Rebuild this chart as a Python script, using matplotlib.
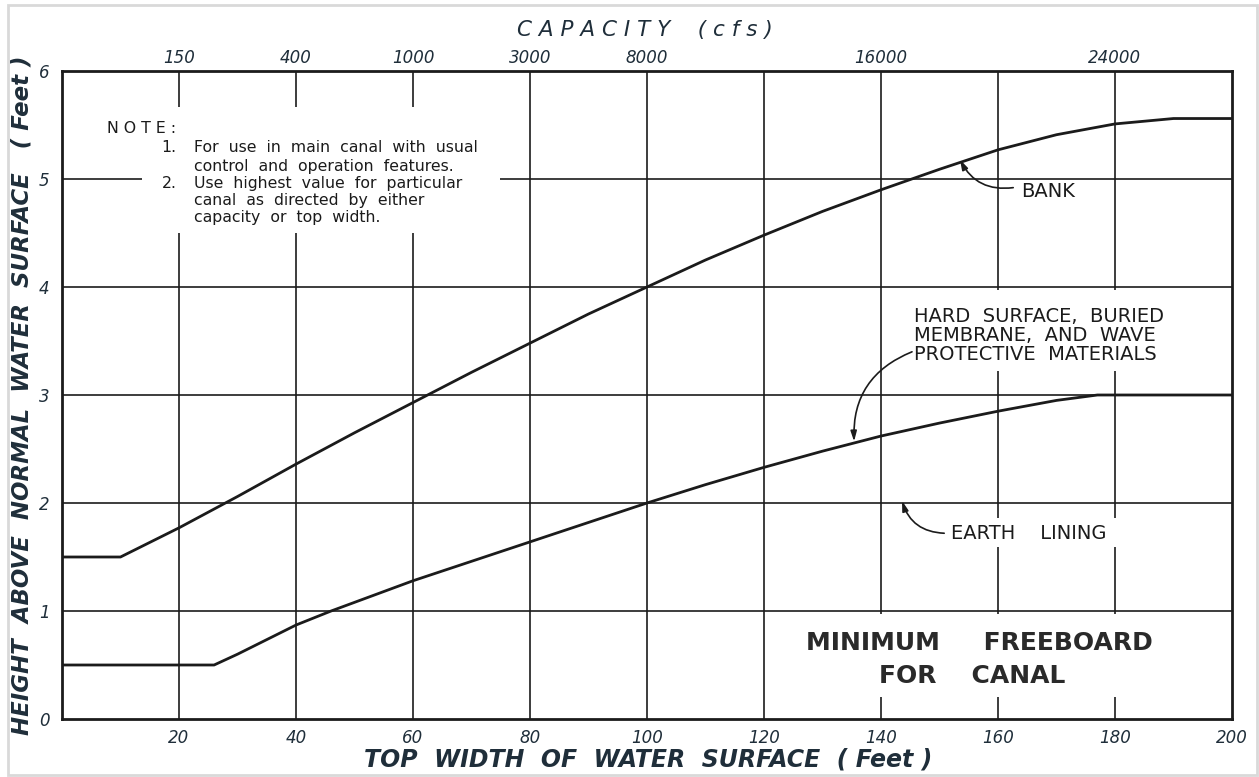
import matplotlib
matplotlib.use("Agg")
import matplotlib.pyplot as plt
from matplotlib.patches import Rectangle

# ---- data ----
bank_width_ft = [0, 10, 20, 30, 40, 50, 60, 70, 80, 90, 100, 110, 120, 130, 140, 150, 160, 170, 180, 190, 200]
bank_height_ft = [1.5, 1.5, 1.77, 2.06, 2.36, 2.65, 2.93, 3.21, 3.48, 3.75, 4.0, 4.25, 4.48, 4.70, 4.90, 5.09, 5.27, 5.41, 5.51, 5.56, 5.56]

hard_width_ft = [0, 26, 30, 40, 46, 50, 60, 70, 80, 90, 100, 110, 120, 130, 140, 150, 160, 170, 177, 200]
hard_height_ft = [0.5, 0.5, 0.6, 0.87, 1.0, 1.08, 1.28, 1.46, 1.64, 1.82, 2.0, 2.17, 2.33, 2.48, 2.62, 2.74, 2.85, 2.95, 3.0, 3.0]

x_ticks = [20, 40, 60, 80, 100, 120, 140, 160, 180, 200]
x_ticklabels = ["20", "40", "60", "80", "100", "120", "140", "160", "180", "200"]
y_ticks = [0, 1, 2, 3, 4, 5, 6]
y_ticklabels = ["0", "1", "2", "3", "4", "5", "6"]
capacity_positions = [20, 40, 60, 80, 100, 140, 180]
capacity_labels = ["150", "400", "1000", "3000", "8000", "16000", "24000"]

note_lines = ["For  use  in  main  canal  with  usual",
              "control  and  operation  features.",
              "Use  highest  value  for  particular",
              "canal  as  directed  by  either",
              "capacity  or  top  width."]

INK = "#1b1b1b"
LABEL = "#1f2e3a"

fig = plt.figure(figsize=(12.59, 7.77), dpi=100)
ax = fig.add_axes([62 / 1259, 1 - 719 / 777, 1170 / 1259, 648 / 777])

ax.set_xlim(0, 200)
ax.set_ylim(0, 6)

# grid
ax.set_axisbelow(True)
for gx in [20, 40, 60, 80, 100, 120, 140, 160, 180]:
    ax.axvline(gx, color=INK, lw=1.2, zorder=0.5)
for gy in [1, 2, 3, 4, 5]:
    ax.axhline(gy, color=INK, lw=1.2, zorder=0.5)

# white blanks behind lettering (grid broken by text)
for (x0, y0, x1, y1) in [(13.7, 4.50, 74.9, 5.67),
                         (144.0, 3.22, 193.0, 3.97),
                         (150.5, 1.59, 182.0, 1.86),
                         (125.0, 0.20, 187.0, 0.975)]:
    ax.add_patch(Rectangle((x0, y0), x1 - x0, y1 - y0, facecolor="white",
                           edgecolor="none", zorder=1))

# curves
ax.plot(bank_width_ft, bank_height_ft, color=INK, lw=2.0, zorder=3, solid_capstyle="butt")
ax.plot(hard_width_ft, hard_height_ft, color=INK, lw=2.0, zorder=3, solid_capstyle="butt")

# spines
for s in ax.spines.values():
    s.set_linewidth(2.0)
    s.set_color(INK)
    s.set_zorder(4)

# ticks
ax.set_xticks(x_ticks)
ax.set_xticklabels(x_ticklabels, fontsize=12, style="italic", color=LABEL)
ax.set_yticks(y_ticks)
ax.set_yticklabels(y_ticklabels, fontsize=12, style="italic", color=LABEL)
ax.tick_params(axis="x", length=0, pad=7)
ax.tick_params(axis="y", length=0, pad=9)

top = ax.twiny()
top.set_xlim(0, 200)
top.set_xticks(capacity_positions)
top.set_xticklabels(capacity_labels, fontsize=12, style="italic", color=LABEL)
top.tick_params(axis="x", length=0, pad=3)
for s in top.spines.values():
    s.set_visible(False)

# axis titles
fig.text(645 / 1259, 1 - 30 / 777, "C A P A C I T Y    ( c f s )", ha="center", va="center",
         fontsize=15.5, style="italic", color=LABEL)
fig.text(648 / 1259, 1 - 760 / 777, "TOP  WIDTH  OF  WATER  SURFACE  ( Feet )", ha="center",
         va="center", fontsize=17, style="italic", fontweight="bold", color=LABEL)
fig.text(22 / 1259, 1 - 395 / 777, "HEIGHT  ABOVE  NORMAL  WATER  SURFACE   ( Feet )",
         ha="center", va="center", rotation=90, fontsize=16.5, style="italic",
         fontweight="bold", color=LABEL)

# note
tkw = dict(fontsize=11.3, color=INK, va="center", zorder=5)
ax.text(7.7, 5.47, "N O T E :", ha="left", **tkw)
note_y = [5.29, 5.12, 4.96, 4.80, 4.64]
ax.text(17.0, note_y[0], "1.", ha="left", **tkw)
ax.text(17.0, note_y[2], "2.", ha="left", **tkw)
for yy, line in zip(note_y, note_lines):
    ax.text(22.6, yy, line, ha="left", **tkw)

# curve labels
lkw = dict(fontsize=14, color=INK, zorder=5)
ax.text(164.0, 4.88, "BANK", ha="left", va="center", **lkw)
ax.text(145.6, 3.55, "HARD  SURFACE,  BURIED\nMEMBRANE,  AND  WAVE\nPROTECTIVE  MATERIALS",
        ha="left", va="center", linespacing=1.0, **lkw)
ax.text(152.0, 1.72, "EARTH    LINING", ha="left", va="center", **lkw)
ax.text(156.8, 0.70, "MINIMUM     FREEBOARD", ha="center", va="center",
        fontsize=18, fontweight="bold", color="#2a2a2a", zorder=5)
ax.text(155.6, 0.40, "FOR    CANAL", ha="center", va="center",
        fontsize=18, fontweight="bold", color="#2a2a2a", zorder=5)

akw = dict(arrowstyle="-|>,head_length=0.6,head_width=0.18", color=INK, lw=1.2,
           shrinkA=0, shrinkB=0)
ax.annotate("", xy=(153.5, 5.18), xytext=(162.6, 4.92),
            arrowprops=dict(connectionstyle="arc3,rad=-0.35", **akw), zorder=5)
ax.annotate("", xy=(135.4, 2.57), xytext=(145.3, 3.40),
            arrowprops=dict(connectionstyle="arc3,rad=0.35", **akw), zorder=5)
ax.annotate("", xy=(143.6, 2.02), xytext=(150.8, 1.72),
            arrowprops=dict(connectionstyle="arc3,rad=-0.35", **akw), zorder=5)

# light frame of the scanned sheet
fig.patches.append(Rectangle((8 / 1259, 2 / 777), 1 - 10 / 1259, 1 - 7 / 777,
                             transform=fig.transFigure, fill=False,
                             edgecolor="#d9d9d9", lw=2))

fig.savefig("out.png", dpi=100, facecolor="white")
